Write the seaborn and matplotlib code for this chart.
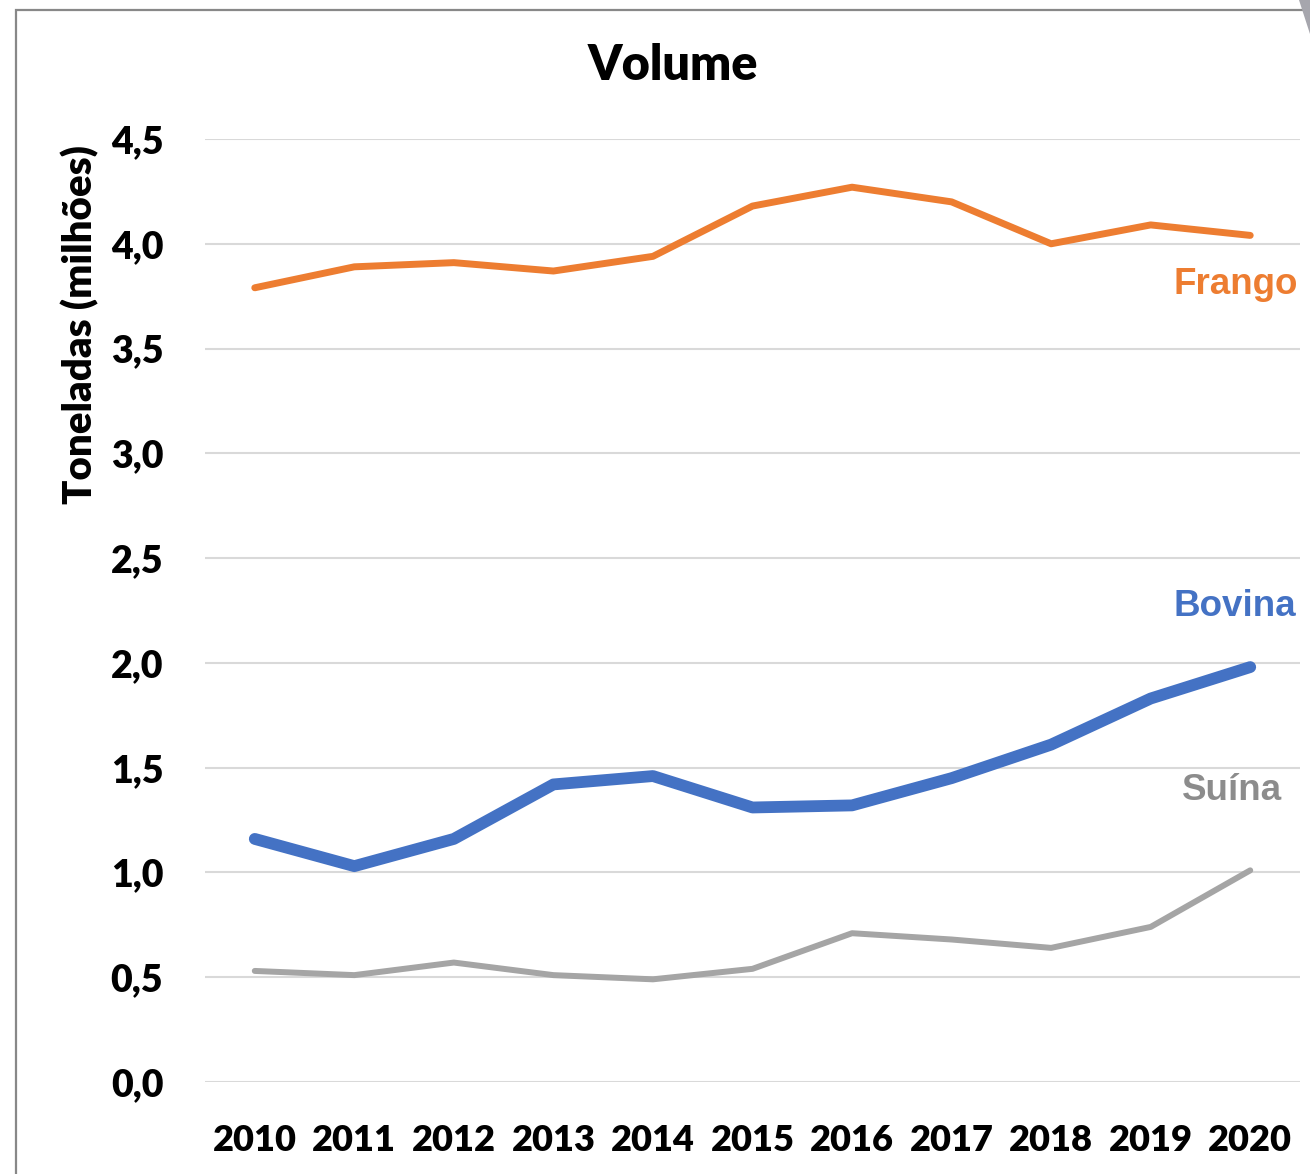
import matplotlib
matplotlib.use("Agg")
import matplotlib.pyplot as plt
from matplotlib.patches import Rectangle, Polygon
import seaborn as sns
import pandas as pd

# Export volumes (million tonnes) by meat type
years = [2010, 2011, 2012, 2013, 2014, 2015, 2016, 2017, 2018, 2019, 2020]
frango = [3.79, 3.89, 3.91, 3.87, 3.94, 4.18, 4.27, 4.20, 4.00, 4.09, 4.04]
bovina = [1.16, 1.03, 1.16, 1.42, 1.46, 1.31, 1.32, 1.45, 1.61, 1.83, 1.98]
suina = [0.53, 0.51, 0.57, 0.51, 0.49, 0.54, 0.71, 0.68, 0.64, 0.74, 1.01]
yticks = [0.0, 0.5, 1.0, 1.5, 2.0, 2.5, 3.0, 3.5, 4.0, 4.5]
ytick_labels = ["0,0", "0,5", "1,0", "1,5", "2,0", "2,5", "3,0", "3,5", "4,0", "4,5"]

series = {"Frango": frango, "Bovina": bovina, "Suína": suina}
colors = {"Frango": "#ED7D31", "Bovina": "#4472C4", "Suína": "#A5A5A5"}
label_colors = {"Frango": "#ED7D31", "Bovina": "#4472C4", "Suína": "#8C8C8C"}
widths = {"Frango": 5.0, "Bovina": 8.5, "Suína": 4.3}
label_pos = {"Frango": (1174, 3.805), "Bovina": (1174, 2.27), "Suína": (1182, 1.39)}

df = pd.DataFrame(
    [(y, name, v) for name, vals in series.items() for y, v in zip(years, vals)],
    columns=["ano", "tipo", "volume"],
)

sns.set_theme(style="white")
plt.rcParams["font.family"] = ["Lato", "DejaVu Sans"]
plt.rcParams["lines.solid_capstyle"] = "round"

W, H = 1310, 1174
fig = plt.figure(figsize=(W / 100, H / 100), dpi=100)
ax = fig.add_axes([205 / W, 1 - 1082 / H, (1300 - 205) / W, (1082 - 139) / H])

for name in ["Suína", "Bovina", "Frango"]:
    sub = df[df["tipo"] == name]
    sns.lineplot(data=sub, x="ano", y="volume", ax=ax, color=colors[name],
                 linewidth=widths[name], legend=False, zorder=3)

ax.set_xlim(years[0] - 0.5, years[-1] + 0.5)
ax.set_ylim(0, 4.5)
ax.set_yticks(yticks)
ax.set_yticklabels(ytick_labels)
ax.set_xticks(years)
ax.set_xticklabels([str(y) for y in years])
ax.grid(axis="y", color="#D9D9D9", linewidth=1.5)
ax.grid(axis="x", visible=False)
for s in ax.spines.values():
    s.set_visible(False)
ax.tick_params(axis="y", length=0, pad=30, labelsize=27)
ax.tick_params(axis="x", length=0, pad=30, labelsize=26)
for lab in ax.get_xticklabels() + ax.get_yticklabels():
    lab.set_fontweight("heavy")
    lab.set_color("black")
ax.set_xlabel("")
ax.set_ylabel("")

# Series names beside the line ends
for name, (px, yv) in label_pos.items():
    xv = years[0] - 0.5 + (px - 205) / (1300 - 205) * (len(years))
    ax.text(xv, yv, name, ha="left", va="center", fontsize=26.5,
            fontweight="bold", color=label_colors[name],
            family=["Liberation Sans", "DejaVu Sans"], clip_on=False)

fig.text(673 / W, 1 - 66 / H, "Volume", ha="center", va="center",
         fontsize=35, fontweight="heavy", color="black")
fig.text(80 / W, 1 - 325 / H, "Toneladas (milhões)", ha="center", va="center",
         rotation=90, fontsize=29, fontweight="heavy", color="black")

# Chart frame and corner shading
fig.patches.append(Rectangle((16 / W, -0.05), 1.2, 1 - 10 / H + 0.05,
                             transform=fig.transFigure, fill=False,
                             edgecolor="#888888", linewidth=1.6))
fig.patches.append(Polygon([(1299 / W, 1.0), (1.0, 1.0), (1.0, 1 - 34 / H)],
                           closed=True, transform=fig.transFigure,
                           facecolor="#A6A6AD", edgecolor="none"))

fig.savefig("out.png", dpi=100)
